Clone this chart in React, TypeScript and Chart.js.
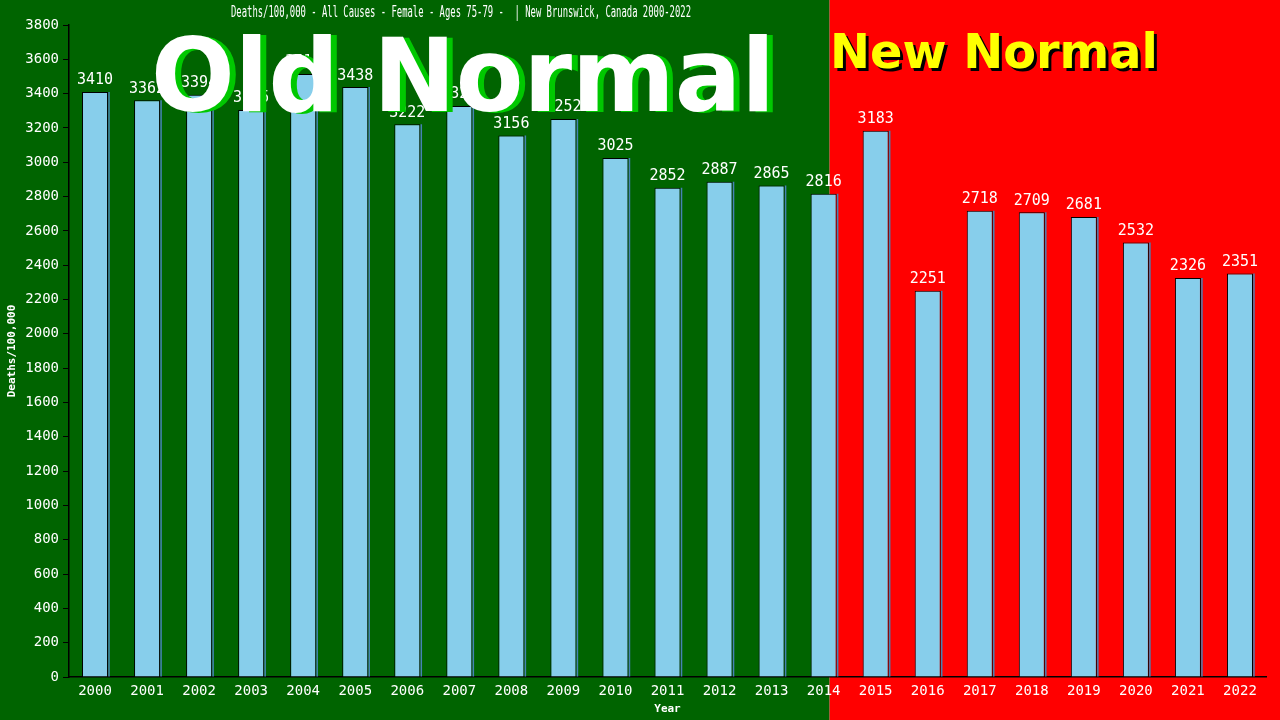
import { useEffect, useRef } from 'react';
import { Chart, registerables, Plugin } from 'chart.js';

Chart.register(...registerables);

const years = [
  '2000', '2001', '2002', '2003', '2004', '2005', '2006', '2007', '2008', '2009', '2010', '2011',
  '2012', '2013', '2014', '2015', '2016', '2017', '2018', '2019', '2020', '2021', '2022',
];
const deaths = [
  3410, 3362, 3394, 3305, 3514, 3438, 3222, 3328, 3156, 3252, 3025, 2852,
  2887, 2865, 2816, 3183, 2251, 2718, 2709, 2681, 2532, 2326, 2351,
];
const title = 'Deaths/100,000 - All Causes - Female - Ages 75-79 -  | New Brunswick, Canada 2000-2022';
const oldLabel = 'Old Normal';
const newLabel = 'New Normal';

const MONO = '"DejaVu Sans Mono", "Liberation Mono", monospace';
const SANS = '"DejaVu Sans", Verdana, sans-serif';

// background halves: green up to just past the 2014 bar, red after
const backdrop: Plugin<'bar'> = {
  id: 'backdrop',
  beforeDraw(chart) {
    const { ctx, width, height } = chart;
    const x = chart.scales.x;
    const split = x.getPixelForValue(14) + 6;
    ctx.save();
    ctx.fillStyle = '#006400';
    ctx.fillRect(0, 0, split, height);
    ctx.fillStyle = '#ff0000';
    ctx.fillRect(split, 0, width - split, height);
    ctx.fillStyle = '#ffffff';
    ctx.font = `15px ${MONO}`;
    ctx.textBaseline = 'middle';
    ctx.textAlign = 'left';
    ctx.fillText(title, 231, 13, 460);
    ctx.restore();
  },
};

const barLabels: Plugin<'bar'> = {
  id: 'barLabels',
  afterDatasetsDraw(chart) {
    const { ctx } = chart;
    const meta = chart.getDatasetMeta(0);
    ctx.save();
    meta.data.forEach((bar: any, i) => {
      // blue shadow on the right edge
      ctx.strokeStyle = '#4682b4';
      ctx.lineWidth = 1.5;
      ctx.beginPath();
      ctx.moveTo(bar.x + bar.width / 2 + 1, bar.y);
      ctx.lineTo(bar.x + bar.width / 2 + 1, bar.base);
      ctx.stroke();
      ctx.fillStyle = '#ffffff';
      ctx.font = `15px ${MONO}`;
      ctx.textAlign = 'center';
      ctx.textBaseline = 'bottom';
      ctx.fillText(String(deaths[i]), bar.x, bar.y - 4);
    });
    ctx.restore();
  },
};

const bigText: Plugin<'bar'> = {
  id: 'bigText',
  afterDraw(chart) {
    const { ctx } = chart;
    ctx.save();
    ctx.textAlign = 'left';
    ctx.textBaseline = 'alphabetic';
    ctx.font = `bold 102px ${SANS}`;
    ctx.fillStyle = '#00c800';
    ctx.fillText(oldLabel, 157, 112, 624);
    ctx.fillStyle = '#ffffff';
    ctx.fillText(oldLabel, 151, 111, 624);
    ctx.font = `bold 48px ${SANS}`;
    ctx.fillStyle = '#000000';
    ctx.fillText(newLabel, 833, 71, 328);
    ctx.fillStyle = '#ffff00';
    ctx.fillText(newLabel, 830, 68, 328);
    ctx.restore();
  },
};

export default function App() {
  const canvasRef = useRef<HTMLCanvasElement | null>(null);

  useEffect(() => {
    if (!canvasRef.current) return;
    const chart = new Chart(canvasRef.current, {
      type: 'bar',
      data: {
        labels: years,
        datasets: [
          {
            data: deaths,
            backgroundColor: '#87ceeb',
            borderColor: '#000000',
            borderWidth: 1,
            barPercentage: 0.5,
            categoryPercentage: 1,
          },
        ],
      },
      options: {
        responsive: false,
        animation: false,
        layout: { padding: { top: 25, right: 14, left: 0, bottom: 0 } },
        plugins: { legend: { display: false }, tooltip: { enabled: false }, title: { display: false } },
        scales: {
          x: {
            grid: { display: false },
            border: { color: '#000000', width: 1.5 },
            ticks: { color: '#ffffff', font: { family: MONO, size: 14 }, padding: -2, maxRotation: 0 },
            title: { display: true, text: 'Year', color: '#ffffff', font: { family: MONO, size: 11, weight: 'bold' }, padding: { top: 0, bottom: 4 } },
            afterFit: (s: any) => { s.height = 43; },
          },
          y: {
            min: 0,
            max: 3800,
            grid: { drawOnChartArea: false, color: '#000000', tickLength: 6 },
            border: { color: '#000000', width: 1.5 },
            ticks: { stepSize: 200, color: '#ffffff', font: { family: MONO, size: 14 }, padding: 4, callback: (v: any) => String(v) },
            title: { display: true, text: 'Deaths/100,000', color: '#ffffff', font: { family: MONO, size: 11, weight: 'bold' }, padding: { top: 6, bottom: 0 } },
            afterFit: (s: any) => { s.width = 69; },
          },
        },
      },
      plugins: [backdrop, barLabels, bigText],
    });
    return () => chart.destroy();
  }, []);

  return (
    <div style={{ position: 'fixed', left: 0, top: 0, width: 1280, height: 720 }}>
      <canvas ref={canvasRef} width={1280} height={720} />
    </div>
  );
}
